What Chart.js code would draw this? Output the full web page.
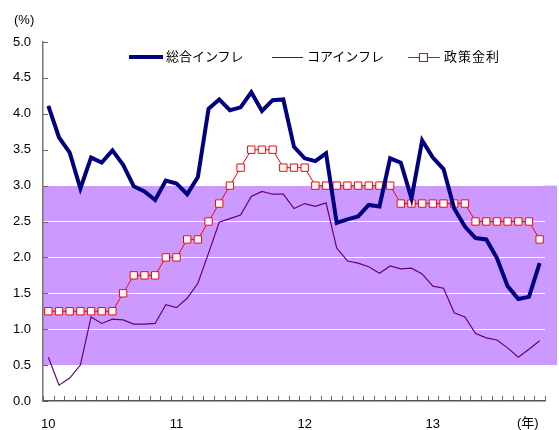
<!DOCTYPE html>
<html lang="ja">
<head>
<meta charset="UTF-8">
<title>インフレと政策金利</title>
<script src="https://cdn.jsdelivr.net/npm/chart.js"></script>
<style>
  body { margin: 0; background: #fff; }
  .wrap { position: relative; width: 559px; height: 430px; font-family: "Liberation Sans", "Noto Sans CJK JP", sans-serif; color: #000; }
  .lbl { position: absolute; font-size: 13px; line-height: 1; white-space: nowrap; }
  .leg-line { position: absolute; }
  .leg-sq { position: absolute; width: 7px; height: 7px; border: 1px solid #ff0000; background: #fff; }
</style>
</head>
<body>
<div class="wrap">
  <canvas id="chart" width="559" height="430"></canvas>

  <div class="lbl" style="left:14px; top:13px;">(%)</div>
  <div class="lbl" style="left:517px; top:416px;">(年)</div>

  <!-- 凡例 -->
  <div class="leg-line" style="left:129px; top:55px; width:34px; height:4px; background:#000080;"></div>
  <div class="lbl" style="left:166px; top:50px;">総合インフレ</div>
  <div class="leg-line" style="left:272px; top:57px; width:31px; height:1px; background:#660077;"></div>
  <div class="lbl" style="left:307px; top:50px;">コアインフレ</div>
  <div class="leg-line" style="left:408px; top:57px; width:32px; height:1px; background:#ff0000;"></div>
  <div class="leg-sq" style="left:419px; top:53px;"></div>
  <div class="lbl" style="left:444px; top:50px; letter-spacing:1px;">政策金利</div>
</div>

<script>
  const categories = [
    '10/01','10/02','10/03','10/04','10/05','10/06','10/07','10/08','10/09','10/10','10/11','10/12',
    '11/01','11/02','11/03','11/04','11/05','11/06','11/07','11/08','11/09','11/10','11/11','11/12',
    '12/01','12/02','12/03','12/04','12/05','12/06','12/07','12/08','12/09','12/10','12/11','12/12',
    '13/01','13/02','13/03','13/04','13/05','13/06','13/07','13/08','13/09','13/10','13/11'
  ];
  // 年ラベル（各年の1月の位置に表示）
  const yearLabels = { '10/01': '10', '11/01': '11', '12/01': '12', '13/01': '13' };

  const headline = [4.11, 3.67, 3.46, 2.96, 3.39, 3.32, 3.49, 3.29, 2.99, 2.92, 2.80, 3.07,
                    3.03, 2.88, 3.12, 4.07, 4.20, 4.05, 4.09, 4.30, 4.04, 4.19, 4.20, 3.54,
                    3.38, 3.34, 3.45, 2.48, 2.53, 2.57, 2.73, 2.71, 3.38, 3.32, 2.82, 3.63,
                    3.39, 3.23, 2.68, 2.43, 2.27, 2.25, 1.99, 1.60, 1.42, 1.45, 1.92];
  const core = [0.61, 0.22, 0.32, 0.50, 1.17, 1.08, 1.14, 1.13, 1.07, 1.07, 1.08, 1.34,
                1.30, 1.43, 1.64, 2.06, 2.49, 2.54, 2.59, 2.85, 2.92, 2.88, 2.88, 2.68,
                2.75, 2.71, 2.76, 2.13, 1.95, 1.92, 1.87, 1.78, 1.88, 1.84, 1.85, 1.77,
                1.60, 1.57, 1.23, 1.17, 0.94, 0.88, 0.85, 0.74, 0.61, 0.72, 0.84];
  const policyRate = [1.25, 1.25, 1.25, 1.25, 1.25, 1.25, 1.25, 1.50, 1.75, 1.75, 1.75, 2.00,
                      2.00, 2.25, 2.25, 2.50, 2.75, 3.00, 3.25, 3.50, 3.50, 3.50, 3.25, 3.25,
                      3.25, 3.00, 3.00, 3.00, 3.00, 3.00, 3.00, 3.00, 3.00, 2.75, 2.75, 2.75,
                      2.75, 2.75, 2.75, 2.75, 2.50, 2.50, 2.50, 2.50, 2.50, 2.50, 2.25];

  // インフレ目標レンジ
  const bandLow = 0.5;
  const bandHigh = 3.0;

  const bandPlugin = {
    id: 'band',
    beforeDraw(chart) {
      const { ctx, chartArea, scales: { y } } = chart;
      const top = y.getPixelForValue(bandHigh);
      const bottom = y.getPixelForValue(bandLow);
      ctx.save();
      ctx.fillStyle = '#cc99ff';
      ctx.fillRect(chartArea.left, top, chart.width - 2 - chartArea.left, bottom - top);
      ctx.restore();
    }
  };

  // 内向きの目盛り
  const innerTicks = {
    id: 'innerTicks',
    afterDatasetsDraw(chart) {
      const { ctx, scales: { x, y } } = chart;
      ctx.save();
      ctx.strokeStyle = '#666';
      ctx.lineWidth = 1;
      ctx.beginPath();
      y.ticks.forEach(t => {
        const py = Math.round(y.getPixelForValue(t.value)) + 0.5;
        ctx.moveTo(x.left, py);
        ctx.lineTo(x.left + 5, py);
      });
      const n = categories.length;
      const step = (x.right - x.left) / n;
      for (let i = 0; i <= n; i++) {
        const px = Math.round(x.left + i * step) + 0.5;
        ctx.moveTo(px, y.bottom);
        ctx.lineTo(px, y.bottom - 5);
      }
      ctx.stroke();
      ctx.restore();
    }
  };

  new Chart(document.getElementById('chart'), {
    type: 'line',
    data: {
      labels: categories,
      datasets: [
        {
          label: '総合インフレ',
          data: headline,
          borderColor: '#000080',
          borderWidth: 4,
          pointRadius: 0,
          tension: 0
        },
        {
          label: 'コアインフレ',
          data: core,
          borderColor: '#660077',
          borderWidth: 1.2,
          pointRadius: 0,
          tension: 0
        },
        {
          label: '政策金利',
          data: policyRate,
          borderColor: '#ff0000',
          borderWidth: 1,
          pointStyle: 'rect',
          pointRadius: 5.2,
          pointBorderWidth: 1,
          pointBackgroundColor: '#ffffff',
          pointBorderColor: '#ff0000',
          tension: 0
        }
      ]
    },
    options: {
      responsive: false,
      animation: false,
      layout: { padding: { top: 42, right: 14, left: 0, bottom: 0 } },
      plugins: {
        legend: { display: false },
        tooltip: { enabled: false }
      },
      scales: {
        x: {
          offset: true,
          grid: { display: false, drawTicks: false },
          border: { display: true, color: '#555', width: 1.5 },
          ticks: {
            autoSkip: false,
            maxRotation: 0,
            padding: 16,
            color: '#000',
            font: { family: '"Liberation Sans", Arial, sans-serif', size: 13 },
            callback: function (val) {
              return yearLabels[this.getLabelForValue(val)] || '';
            }
          },
          afterFit: s => { s.height = 29; }
        },
        y: {
          min: 0,
          max: 5,
          grid: { color: '#ffffff', lineWidth: 1, drawTicks: false },
          border: { display: true, color: '#777', width: 1.5 },
          ticks: {
            stepSize: 0.5,
            padding: 12,
            color: '#000',
            font: { family: '"Liberation Sans", Arial, sans-serif', size: 13 },
            callback: v => v.toFixed(1)
          },
          afterFit: s => { s.height; s.width = 43; }
        }
      }
    },
    plugins: [bandPlugin, innerTicks]
  });
</script>
</body>
</html>
